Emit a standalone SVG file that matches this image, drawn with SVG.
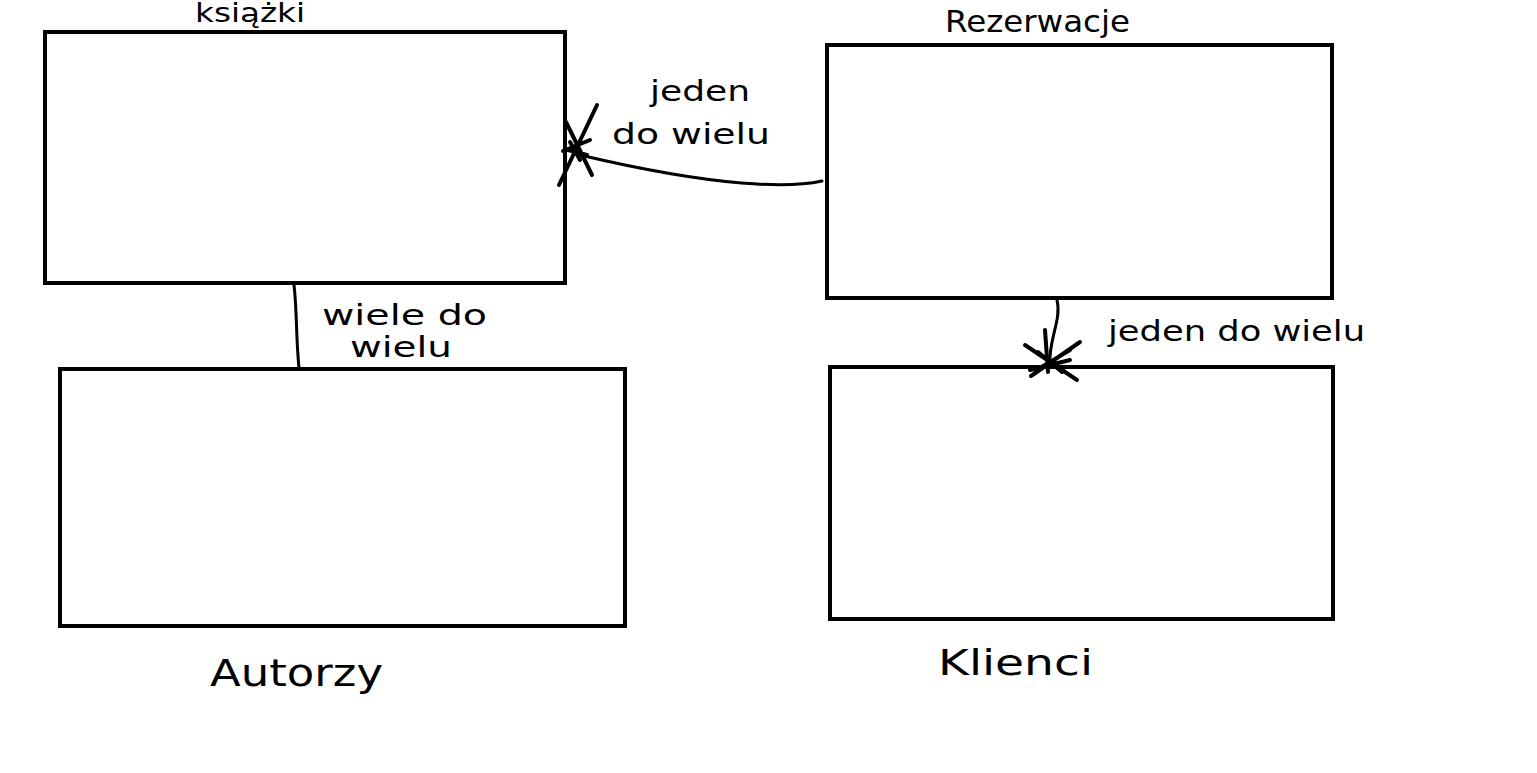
<svg xmlns="http://www.w3.org/2000/svg" width="1537" height="773" viewBox="0 0 1537 773">
<style>
.box{fill:#fff;stroke:#000;stroke-width:4}
.ln{fill:none;stroke:#000;stroke-width:3;stroke-linecap:round}
.mk{fill:none;stroke:#000;stroke-width:4;stroke-linecap:round}
.t{font-family:"DejaVu Sans","Liberation Sans",sans-serif;fill:#000}
</style>
<rect width="1537" height="773" fill="#fff"/>
<g id="ksiazki">
<rect class="box" x="45" y="32" width="520" height="251"/>
<text class="t" x="195" y="22" font-size="26" textLength="110" lengthAdjust="spacingAndGlyphs">książki</text>
</g>
<g id="rezerwacje">
<rect class="box" x="827" y="45" width="505" height="253"/>
<text class="t" x="945" y="32" font-size="30" textLength="185" lengthAdjust="spacingAndGlyphs">Rezerwacje</text>
</g>
<g id="autorzy">
<rect class="box" x="60" y="369" width="565" height="257"/>
<text class="t" x="210" y="686" font-size="38" textLength="173" lengthAdjust="spacingAndGlyphs">Autorzy</text>
</g>
<g id="klienci">
<rect class="box" x="830" y="367" width="503" height="252"/>
<text class="t" x="938" y="675" font-size="36" textLength="155" lengthAdjust="spacingAndGlyphs">Klienci</text>
</g>
<g id="connectors">
<path class="ln" d="M294,285 C297,310 296,340 299,368"/>
<path class="ln" d="M822,181 C790,188 720,188 580,155"/>
<path class="mk" d="M559,185 L597,105 M566,122 L592,175 M563,151 L590,140 M568,150 L587,155 M570,142 L580,160"/>
<path class="ln" d="M1057,300 C1062,320 1048,340 1050,365"/>
<path class="mk" d="M1025,345 L1077,380 M1031,376 L1080,342 M1045,330 L1048,372 M1030,370 L1070,360 M1038,352 L1062,372 M1040,368 L1070,350"/>
</g>
<g id="labels">
<text class="t" x="650" y="101" font-size="28" textLength="100" lengthAdjust="spacingAndGlyphs">jeden</text>
<text class="t" x="612" y="144" font-size="28" textLength="158" lengthAdjust="spacingAndGlyphs">do wielu</text>
<text class="t" x="322" y="325" font-size="28" textLength="165" lengthAdjust="spacingAndGlyphs">wiele do</text>
<text class="t" x="350" y="357" font-size="28" textLength="102" lengthAdjust="spacingAndGlyphs">wielu</text>
<text class="t" x="1108" y="341" font-size="28" textLength="257" lengthAdjust="spacingAndGlyphs">jeden do wielu</text>
</g>
</svg>
